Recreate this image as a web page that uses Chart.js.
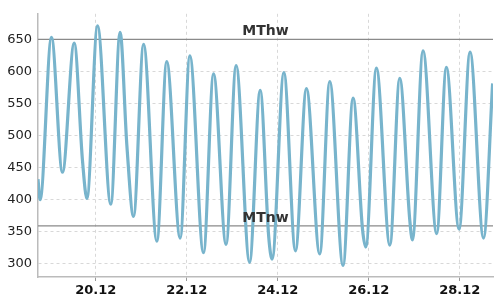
<!DOCTYPE html>
<html>
<head>
<meta charset="utf-8">
<script src="https://cdn.jsdelivr.net/npm/chart.js@4/dist/chart.umd.min.js"></script>
<style>
  html, body { margin: 0; padding: 0; background: #fff; }
</style>
</head>
<body>
<canvas id="chart-tide" width="500" height="300"></canvas>
<script>
// Hours since 18.12 00:00 and water level (turning points)
const tideHours = [
  17.5, 18.6, 24.6, 30.4, 36.6, 41.0, 43.3, 48.9, 55.9, 60.8, 64.4, 67.9,
  73.2, 80.2, 85.4, 92.5, 97.6, 104.8, 110.1, 116.7, 122.0, 129.1, 134.7,
  139.2, 141.0, 147.2, 153.3, 159.1, 166.1, 171.4, 178.4, 183.7, 188.7,
  190.4, 196.0, 203.1, 208.3, 213.6, 215.0, 220.6, 227.8, 232.9, 239.6,
  245.4, 252.5, 257.3,
];
const tideLevels = [
  432, 400, 654, 443, 645, 460, 402, 672, 393, 662, 484, 374,
  643, 335, 616, 340, 625, 317, 597, 330, 610, 302, 571,
  342, 307, 599, 320, 574, 315, 585, 297, 559, 353,
  326, 606, 329, 590, 368, 337, 633, 347, 607, 354,
  631, 340, 582,
];

// Mean high / low water
const refNames = ["MThw", "MTnw"];
const refLevels = [651, 359];

const xTickHours = [48, 96, 144, 192, 240];
const xTickLabels = ["20.12", "22.12", "24.12", "26.12", "28.12"];
const yTicks = [300, 350, 400, 450, 500, 550, 600, 650];

const xMin = 17.5;
const xMax = 257.5;

const refLabels = {
  id: "refLabels",
  afterDatasetsDraw(chart) {
    const { ctx, chartArea, scales } = chart;
    const cx = (chartArea.left + chartArea.right) / 2;
    ctx.save();
    ctx.font = 'bold 14px "DejaVu Sans"';
    ctx.fillStyle = "#333";
    ctx.textAlign = "center";
    ctx.textBaseline = "alphabetic";
    refNames.forEach((name, i) => {
      ctx.fillText(name, cx, scales.y.getPixelForValue(refLevels[i]) - 4);
    });
    ctx.restore();
  },
};

const refDatasets = refLevels.map((lvl) => ({
  data: [{ x: xMin, y: lvl }, { x: xMax, y: lvl }],
  borderColor: "#8a8a8a",
  borderWidth: 1.3,
  pointRadius: 0,
  order: 2,
}));

const ctx = document.getElementById("chart-tide").getContext("2d");
new Chart(ctx, {
  type: "line",
  data: {
    datasets: [
      {
        data: tideHours.map((h, i) => ({ x: h, y: tideLevels[i] })),
        borderColor: "#78b4cc",
        borderWidth: 3.2,
        pointRadius: 0,
        cubicInterpolationMode: "monotone",
        order: 1,
      },
      ...refDatasets,
    ],
  },
  options: {
    responsive: false,
    animation: false,
    layout: { padding: { left: 0, right: 7, top: 5, bottom: 0 } },
    plugins: { legend: { display: false }, tooltip: { enabled: false } },
    scales: {
      x: {
        type: "linear",
        min: xMin,
        max: xMax,
        afterBuildTicks: (scale) => {
          scale.ticks = xTickHours.map((v) => ({ value: v }));
        },
        afterFit: (scale) => {
          scale.height = 23;
        },
        ticks: {
          callback: (v, i) => xTickLabels[i],
          color: "#111",
          font: { family: "DejaVu Sans", size: 13, weight: "bold" },
          padding: 2,
          maxRotation: 0,
        },
        grid: {
          color: "#d8d8d8",
          tickColor: "#999",
          tickLength: 4,
          tickBorderDash: [],
        },
        border: { color: "#bbb", width: 1.5, dash: [3, 3] },
      },
      y: {
        min: 279,
        max: 691,
        afterBuildTicks: (scale) => {
          scale.ticks = yTicks.map((v) => ({ value: v }));
        },
        afterFit: (scale) => {
          scale.width = 38;
        },
        ticks: {
          color: "#222",
          font: { family: "DejaVu Sans", size: 13 },
          padding: 6,
        },
        grid: { color: "#d8d8d8", drawTicks: false },
        border: { color: "#bbb", width: 1.5, dash: [3, 3] },
      },
    },
  },
  plugins: [refLabels],
});
</script>
</body>
</html>
